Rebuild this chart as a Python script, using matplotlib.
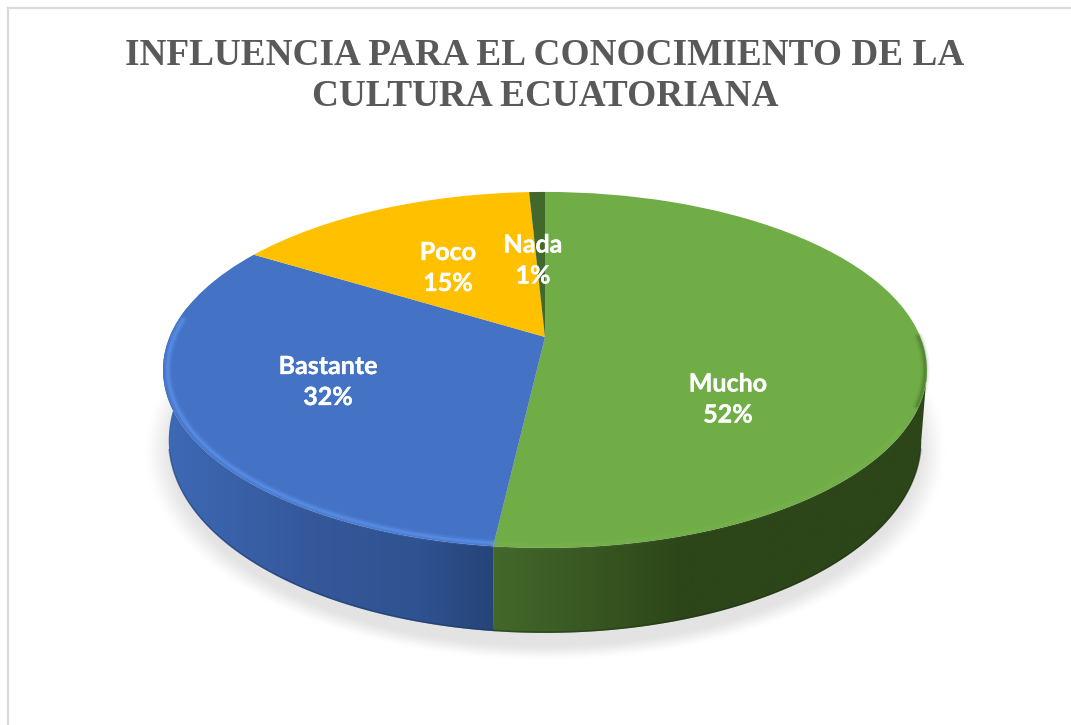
import numpy as np
import matplotlib
matplotlib.use("Agg")
import matplotlib.pyplot as plt
import matplotlib.patheffects as pe
from matplotlib.transforms import Transform
from matplotlib.patches import Polygon
from matplotlib.colors import LinearSegmentedColormap, to_rgb

categories = ["Mucho", "Bastante", "Poco", "Nada"]
values = [51.8, 32.0, 15.4, 0.8]
colors = ["#70AD47", "#4472C4", "#FFC000", "#43682B"]
title = "INFLUENCIA PARA EL CONOCIMIENTO DE LA\nCULTURA ECUATORIANA"

label_pos = [(728, 399.5), (328, 382), (448, 268), (533, 260.5)]
APEX_X, APEX_Y, M, K, C = 545.0, 337.0, 375.4, 171.9, 0.185
DEPTH_SIDE, DEPTH_FRONT = 67.0, 18.0
SILHOUETTE_DEG = 10.7


def project(u, v):
    d = 1 + C * v
    return APEX_X + M * u / d, APEX_Y - K * v / d


class Perspective(Transform):
    input_dims = 2
    output_dims = 2
    is_separable = False
    has_inverse = False

    def transform_non_affine(self, values):
        values = np.asarray(values)
        x, y = project(values[:, 0], values[:, 1])
        return np.column_stack([x, y])


def rim(theta, r=1.0, drop=False):
    t = np.radians(theta)
    u, v = r * np.cos(t), r * np.sin(t)
    x, y = project(u, v)
    if drop:
        x = APEX_X + (x - APEX_X) * 0.985
        y = y + DEPTH_SIDE + DEPTH_FRONT * (-v)
    return x, y


def soft_line(x, y, col, peak=0.8):
    for lw, a in [(6.5, 0.12), (4.5, 0.2), (2.5, 0.35), (1.2, 0.35)]:
        ax.plot(x, y, color=col, lw=lw, alpha=a * peak / 0.8, zorder=6,
                solid_capstyle="round")


fig = plt.figure(figsize=(10.71, 7.25), dpi=100, facecolor="white")
ax = fig.add_axes([0, 0, 1, 1])

wedges, _ = ax.pie(values, colors=colors, startangle=90, counterclock=False,
                   radius=1.0, wedgeprops={"linewidth": 0, "zorder": 5})
ax.set_aspect("auto")
ax.set_autoscale_on(False)
ax.set_xlim(0, 1071)
ax.set_ylim(725, 0)
ax.axis("off")
for w in wedges:
    w.set_transform(Perspective() + ax.transData)
    w.set_clip_on(False)

# soft shadow under the pie
yy, xx = np.mgrid[0:725, 0:1071]
dist = np.sqrt(((xx - 545) / 388.0) ** 2 + ((yy - 450) / 203.0) ** 2)
shade = np.clip((1.04 - dist) / 0.09, 0, 1)
shade = shade * shade * (3 - 2 * shade)
rgba = np.zeros((725, 1071, 4))
rgba[..., :3] = 0.35
rgba[..., 3] = 0.17 * shade
ax.imshow(rgba, extent=(0, 1071, 725, 0), aspect="auto", zorder=1,
          interpolation="bilinear")

# side walls with horizontal gradients, limited to the visible front arc
side_stops = {
    "Mucho": [(470, "#43682B"), (492, "#43682B"), (590, "#385722"), (680, "#2D4619"), (940, "#2C4519")],
    "Bastante": [(150, "#3F6BB9"), (300, "#35599C"), (420, "#2F5290"), (492, "#264478"), (520, "#264478")],
}
for name, w in zip(categories, wedges):
    if name not in side_stops:
        continue
    lo = max(w.theta1, -180 - SILHOUETTE_DEG)
    hi = min(w.theta2, -SILHOUETTE_DEG)
    thetas = np.linspace(lo, hi, 400)
    xt, yt = rim(thetas)
    xb, yb = rim(thetas, drop=True)
    poly = Polygon(np.column_stack([np.r_[xt, xb[::-1]], np.r_[yt, yb[::-1]]]),
                   transform=ax.transData, facecolor="none", edgecolor="none")
    ax.add_patch(poly)
    stops = side_stops[name]
    x0, x1 = stops[0][0], stops[-1][0]
    cmap = LinearSegmentedColormap.from_list(
        name, [((s - x0) / (x1 - x0), to_rgb(c)) for s, c in stops])
    im = ax.imshow(np.linspace(0, 1, 512)[None, :], cmap=cmap, aspect="auto",
                   extent=(x0, x1, 725, 0), zorder=3)
    im.set_clip_path(poly)
    # dark lower edge of the wall
    front = yb > 450
    ax.plot(xb[front], yb[front] - 0.8, color="#1F2F12" if name == "Mucho" else "#1D3563",
            lw=1.2, alpha=0.45, zorder=4)

# bevel highlight around the front of the top face
wb = wedges[1]
th = np.linspace(max(wb.theta1, -186), wb.theta2, 200)
x, y = rim(th, r=0.988)
soft_line(x, y, "#5F96F0")
wm = wedges[0]
th = np.linspace(wm.theta1, -30, 120)
x, y = rim(th, r=0.99)
soft_line(x, y, "#7DBA56", peak=0.35)
th = np.linspace(-22, 0, 60)
x, y = rim(th, r=0.995)
soft_line(x, y, "#3F6526", peak=0.5)

# chart frame
ax.plot([8, 8], [725, 8], color="#D9D9D9", lw=1.6, zorder=2, clip_on=False)
ax.plot([8, 1071], [8, 8], color="#D9D9D9", lw=1.6, zorder=2, clip_on=False)

# labels
for name, val, (lx, ly) in zip(categories, values, label_pos):
    ax.text(lx, ly, f"{name}\n{round(val)}%", color="white", fontfamily="Lato",
            fontweight="bold", fontsize=18, ha="center", va="center",
            linespacing=1.42, zorder=8,
            path_effects=[pe.withStroke(linewidth=0.25, foreground="white")])

ax.text(545, 76, title, color="#595959", fontfamily="Liberation Serif",
        fontweight="bold", fontsize=26.8, ha="center", va="center",
        linespacing=1.21, zorder=8)

fig.savefig("out.png", dpi=100, facecolor="white")
